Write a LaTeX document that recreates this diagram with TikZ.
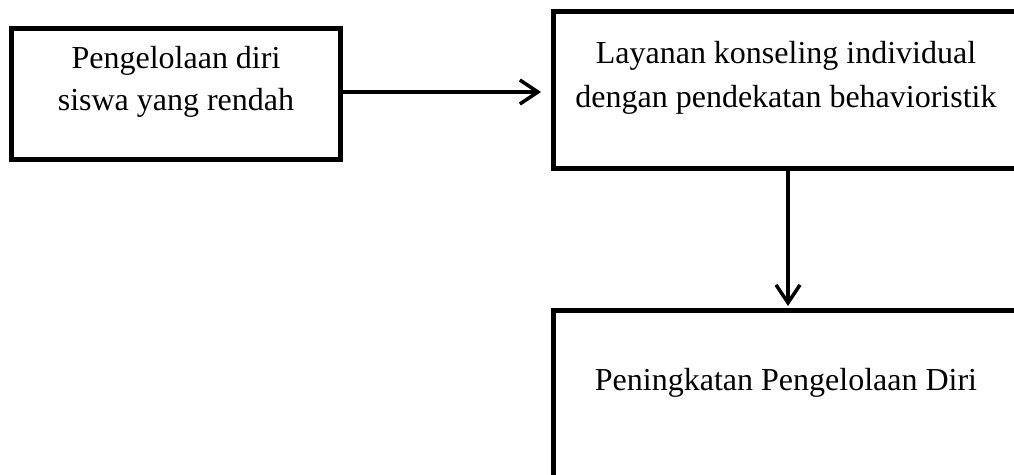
\documentclass[tikz,border=0pt]{standalone}
\usepackage{fontspec}
\setmainfont{Liberation Serif}
\usetikzlibrary{arrows.meta}
\begin{document}
\begin{tikzpicture}[x=1pt,y=-1pt,
  boxshape/.style={draw=black, line width=5pt, rectangle, inner sep=0pt},
  lbl/.style={align=center, inner sep=0pt, font=\fontsize{32}{42}\selectfont},
  conn/.style={line width=3.5pt, -{Straight Barb[length=18pt,width=24pt,line width=3.5pt]}}]
\useasboundingbox (0,0) rectangle (1014,474);
\clip (0,0) rectangle (1014,474);
\node[boxshape, minimum width=329pt, minimum height=130.5pt] (b1) at (176,93.75) {};
\node[boxshape, minimum width=464pt, minimum height=156.5pt] (b2) at (785,89.75) {};
\node[boxshape, minimum width=464pt, minimum height=180pt] (b3) at (785,400) {};
\node[lbl, anchor=base] (t1) at (176,110) {Pengelolaan diri\\siswa yang rendah};
\node[lbl, anchor=base, font=\fontsize{32}{44}\selectfont] (t2) at (786,107) {Layanan konseling individual\\dengan pendekatan behavioristik};
\node[lbl, anchor=base] (t3) at (786,390) {Peningkatan Pengelolaan Diri};
\coordinate (a1s) at (b1.east |- 0,92);
\coordinate (a1e) at (541,92);
\draw[conn] (a1s) -- (a1e);
\coordinate (a2s) at (788,168);
\coordinate (a2e) at (788,306);
\draw[conn] (a2s) -- (a2e);
\end{tikzpicture}
\end{document}
